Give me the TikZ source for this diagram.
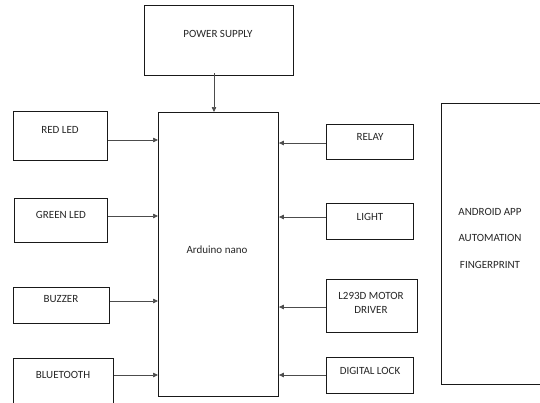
\documentclass[tikz,border=0pt]{standalone}
\usepackage{fontspec}
\setmainfont{Carlito}
\usetikzlibrary{arrows.meta}
\begin{document}
\begin{tikzpicture}[x=1pt,y=-1pt,
  blk/.style={draw=black!90,line width=0.9pt,inner sep=0pt,anchor=north west},
  lbl/.style={font=\fontsize{11}{13}\selectfont,text=black!85,inner sep=0pt},
  conn/.style={draw=black!70,line width=0.7pt,-{Triangle[length=5pt,width=4.5pt]}}]
\useasboundingbox[fill=white] (0,0) rectangle (540,402);
\begin{scope}
\clip (0,0) rectangle (540,402);
% boxes
\node[blk,minimum width=149pt,minimum height=70pt] (ps) at (144,5) {};
\node[blk,minimum width=120pt,minimum height=284pt] (ard) at (158,112) {};
\node[blk,minimum width=94pt,minimum height=49pt] (red) at (13,111) {};
\node[blk,minimum width=93pt,minimum height=44pt] (green) at (14,198) {};
\node[blk,minimum width=96pt,minimum height=36pt] (buz) at (13,287) {};
\node[blk,minimum width=100pt,minimum height=48pt] (bt) at (13,358) {};
\node[blk,minimum width=87pt,minimum height=35pt] (relay) at (326,124) {};
\node[blk,minimum width=87pt,minimum height=36pt] (light) at (326,203) {};
\node[blk,minimum width=91pt,minimum height=53pt] (mot) at (326,279) {};
\node[blk,minimum width=87pt,minimum height=36pt] (lock) at (326,357) {};
\node[blk,minimum width=110pt,minimum height=281pt] (andr) at (441,103) {};
% texts
\node[lbl] (tps) at (218,34) {POWER SUPPLY};
\node[lbl] (tard) at (217,250) {Arduino nano};
\node[lbl] (tred) at (60,130) {RED LED};
\node[lbl] (tgreen) at (61,215) {GREEN LED};
\node[lbl] (tbuz) at (61,299) {BUZZER};
\node[lbl] (tbt) at (63,375) {BLUETOOTH};
\node[lbl] (trelay) at (370,137) {RELAY};
\node[lbl] (tlight) at (370,217) {LIGHT};
\node[lbl] (tmot1) at (371,296) {L293D MOTOR};
\node[lbl] (tmot2) at (371,310) {DRIVER};
\node[lbl] (tlock) at (370,371) {DIGITAL LOCK};
\node[lbl] (ta1) at (490,212) {ANDROID APP};
\node[lbl] (ta2) at (490,238) {AUTOMATION};
\node[lbl] (ta3) at (490,265) {FINGERPRINT};
% connectors
\coordinate (pss) at (214,73);
\draw[conn] (pss) -- (ard.north -| pss);
\draw[conn] (red.east |- 0,140) -- (ard.west |- 0,140);
\draw[conn] (green.east |- 0,216) -- (ard.west |- 0,216);
\draw[conn] (buz.east |- 0,301) -- (ard.west |- 0,301);
\draw[conn] (bt.east |- 0,375) -- (ard.west |- 0,375);
\draw[conn] (relay.west |- 0,143) -- (ard.east |- 0,143);
\draw[conn] (light.west |- 0,217) -- (ard.east |- 0,217);
\draw[conn] (mot.west |- 0,307) -- (ard.east |- 0,307);
\draw[conn] (lock.west |- 0,375) -- (ard.east |- 0,375);
\end{scope}
\end{tikzpicture}
\end{document}
